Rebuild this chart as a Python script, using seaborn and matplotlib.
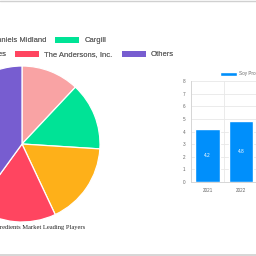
import matplotlib
matplotlib.use("Agg")
import matplotlib.pyplot as plt
import matplotlib.patches as mpatches
from matplotlib.lines import Line2D
from matplotlib.ticker import FixedLocator, MultipleLocator
import seaborn as sns
import pandas as pd
import numpy as np

# ---- data ----
players = ["Archer Daniels Midland", "Cargill", "DuPont Nutrition & Biosciences",
           "The Andersons, Inc.", "Others"]
shares = [12, 14, 17, 17, 40]
player_colors = ["#F9A3A4", "#00E396", "#FEB019", "#FF4560", "#775DD0"]

years = ["2021", "2022"]
market_size = [4.2, 4.8]
series_label = "Soy Protein Ingredients Market Size (Billion)"
bar_color = "#008FFB"

chart_title = "Soy Protein Ingredients Market Leading Players"

sns.set_style("white")
plt.rcParams["font.family"] = ["Liberation Sans", "DejaVu Sans"]

W = 256.0
fig = plt.figure(figsize=(2.56, 2.56), dpi=100)
fig.patch.set_facecolor("white")

# ---- pie ----
cx, cy, r = 22.0, 144.0, 78.0
ax_pie = fig.add_axes([(cx - r) / W, 1 - (cy + r) / W, 2 * r / W, 2 * r / W])
ax_pie.pie(shares, colors=player_colors, startangle=90, counterclock=False,
           radius=1.0, wedgeprops=dict(edgecolor="white", linewidth=0.9))
ax_pie.set_xlim(-1, 1)
ax_pie.set_ylim(-1, 1)
ax_pie.set_aspect("equal")
ax_pie.axis("off")

# legend rows (Chart.js style: centred rows)
fs = 5.5
em = fs * 100 / 72.0
handles = [mpatches.Patch(facecolor=c, edgecolor="none") for c in player_colors]
rows = [(slice(0, 2), 40.5), (slice(2, 5), 54.5)]
for sl, ypx in rows:
    leg = fig.legend(handles[sl], players[sl], loc="center",
                     bbox_to_anchor=(cx / W, 1 - ypx / W),
                     ncol=len(players[sl]), frameon=False, fontsize=fs,
                     handlelength=24 / em, handleheight=6 / em,
                     handletextpad=5 / em, columnspacing=9 / em,
                     borderpad=0, borderaxespad=0)
    for t in leg.get_texts():
        t.set_color("#666666")
    fig.add_artist(leg)

fig.text(cx / W, 1 - 227.5 / W, chart_title, ha="center", va="center",
         fontsize=4.7, color="#222222", family=["Liberation Serif", "DejaVu Serif"])

# ---- bar chart ----
left_px, right_px, top_px, bot_px = 190.7, 257.9, 81.0, 182.0
ax_bar = fig.add_axes([left_px / W, 1 - bot_px / W, (right_px - left_px) / W,
                       (bot_px - top_px) / W])
df = pd.DataFrame({"year": years, "size": market_size})
sns.barplot(data=df, x="year", y="size", ax=ax_bar, color=bar_color,
            width=0.72, saturation=1, label=series_label)
ax_bar.set_xlim(-0.5, len(years) - 0.5)
ax_bar.set_ylim(0, 8)
ax_bar.yaxis.set_major_locator(MultipleLocator(1))
ax_bar.xaxis.set_minor_locator(FixedLocator(np.arange(-0.5, len(years), 1.0)))
ax_bar.grid(False)
ax_bar.grid(axis="y", which="major", color="#e8e8e8", linewidth=0.6)
ax_bar.grid(axis="x", which="minor", color="#e8e8e8", linewidth=0.6)
ax_bar.set_axisbelow(True)
ax_bar.set_xlabel("")
ax_bar.set_ylabel("")
for s in ["top", "right"]:
    ax_bar.spines[s].set_visible(False)
for s in ["left", "bottom"]:
    ax_bar.spines[s].set_color("#d6d6d6")
    ax_bar.spines[s].set_linewidth(0.7)
ax_bar.tick_params(axis="x", which="major", length=0, labelsize=3.3,
                   labelcolor="#666666", pad=4)
ax_bar.tick_params(axis="x", which="minor", length=3, color="#e0e0e0", width=0.6)
ax_bar.tick_params(axis="y", which="major", length=2, color="#e0e0e0", width=0.6,
                   labelsize=3.3, labelcolor="#666666", pad=2)
for cont in ax_bar.containers:
    ax_bar.bar_label(cont, labels=[f"{v:.1f}" for v in market_size],
                     label_type="center", color="white", fontsize=3.4)

lfs = 3.3
lem = lfs * 100 / 72.0
bleg = ax_bar.legend(loc="center left", bbox_to_anchor=(220.3 / W, 1 - 74 / W),
                     bbox_transform=fig.transFigure, frameon=False, fontsize=lfs,
                     handlelength=17 / lem, handleheight=4.3 / lem,
                     handletextpad=2 / lem, borderpad=0, borderaxespad=0)
for t in bleg.get_texts():
    t.set_color("#666666")

# page borders
fig.add_artist(Line2D([0, 1], [1 - 0.5 / W, 1 - 0.5 / W], transform=fig.transFigure,
                      color="#d0d0d0", linewidth=1.0))
fig.add_artist(Line2D([0, 1], [0.9 / W, 0.9 / W], transform=fig.transFigure,
                      color="#d0d0d0", linewidth=1.2))

fig.savefig("out.png", dpi=100, facecolor="white")
